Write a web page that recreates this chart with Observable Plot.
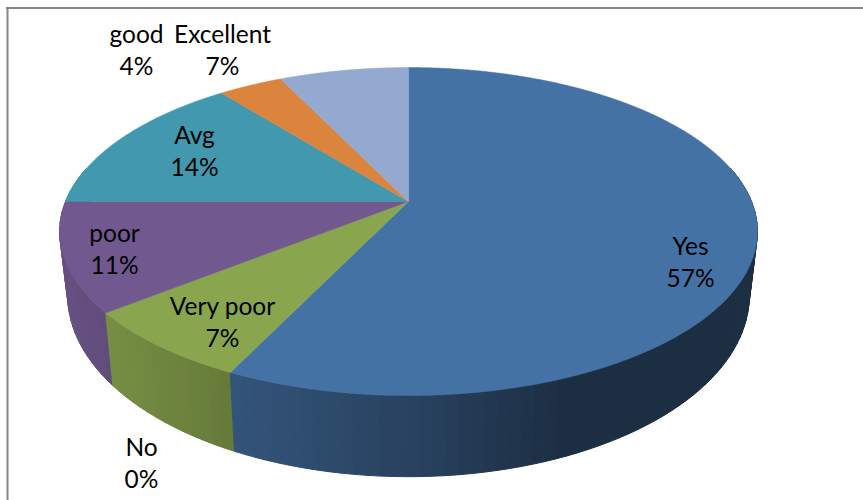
<!DOCTYPE html>
<html>
<head>
<meta charset="utf-8">
<script src="https://cdn.jsdelivr.net/npm/d3@7"></script>
<script src="https://cdn.jsdelivr.net/npm/@observablehq/plot@0.6"></script>
<style>
html,body{margin:0;padding:0;background:#fff;overflow:hidden}
svg{display:block}
</style>
</head>
<body>
<div id="chart"></div>
<script>
// Data
const categories = ["Yes", "No", "Very poor", "poor", "Avg", "good", "Excellent"];
const values = [16, 0, 2, 3, 4, 1, 2];
const colors = ["#4572a5", "#4572a5", "#89a54e", "#71588f", "#4198af", "#db843d", "#93a9cf"];

// Label placement (separate from the data)
const labelX = [690, 141, 222, 114, 194, 136, 222];
const labelY = [260, 461, 320, 247, 149, 48, 48];

// Perspective model of the tilted disc
const P = -0.183;
const TOP = {cx: 408, cy: 201, ax: 343, ay: 158.5};
const BOTTOM = {cx: 408, cy: 262, ax: 335, ay: 175};
const total = d3.sum(values);
const project = (plane, v) => {
  const t = v / total * 2 * Math.PI;
  const X = Math.sin(t), Y = -Math.cos(t), d = 1 + P * Y;
  return {x: plane.cx + plane.ax * X / d, y: plane.cy + plane.ay * Y / d, depth: Y};
};

const shade = d3.scaleLinear().domain([70, 232, 430, 565]).range([0.9, 0.74, 0.56, 0.4]).clamp(true);
const ends = d3.cumsum(values);
const FACE_STEPS = 0.02;
const STRIP_STEPS = 0.14;

const faces = [];
const strips = [];
categories.forEach((name, i) => {
  if (values[i] === 0) return;
  const start = ends[i] - values[i], end = ends[i];
  const base = d3.rgb(colors[i]);
  const nf = Math.round((end - start) / FACE_STEPS);
  faces.push({name, x: TOP.cx, y: TOP.cy});
  for (let k = 0; k <= nf; ++k) {
    const p = project(TOP, start + (end - start) * k / nf);
    faces.push({name, x: p.x, y: p.y});
  }
  faces.push({name, x: TOP.cx, y: TOP.cy});
  const n = Math.round((end - start) / STRIP_STEPS);
  for (let k = 0; k < n; ++k) {
    const a = start + (end - start) * k / n, a2 = start + (end - start) * (k + 1) / n;
    const p = project(TOP, a), q = project(TOP, a2), r = project(BOTTOM, a2), s = project(BOTTOM, a);
    if (p.depth < -0.2 && q.depth < -0.2) continue;
    const f = shade((p.x + q.x + r.x + s.x) / 4);
    const c = d3.rgb(base.r * f, base.g * f, base.b * f).formatHex();
    const id = `${i}-${k}`;
    strips.push({order: (p.depth + q.depth) / 2, pts: [p, q, r, s, p].map(v => ({id, c, x: v.x, y: v.y}))});
  }
});
strips.sort((a, b) => a.order - b.order);
const stripPoints = strips.flatMap(s => s.pts);

const labels = categories.map((name, i) => ({
  text: `${name}\n${Math.round(values[i] / total * 100)}%`, x: labelX[i], y: labelY[i]
}));

const chart = Plot.plot({
  width: 863,
  height: 500,
  margin: 0,
  style: {background: "#fff"},
  x: {domain: [0, 863], range: [0, 863], axis: null},
  y: {domain: [0, 500], range: [0, 500], axis: null},
  color: {domain: categories, range: colors},
  marks: [
    Plot.ruleY([7.5], {x1: 6, x2: 863, stroke: "#868686", strokeWidth: 2, strokeOpacity: 1}),
    Plot.ruleX([7], {y1: 7, y2: 500, stroke: "#868686", strokeWidth: 2, strokeOpacity: 1}),
    Plot.line(stripPoints, {x: "x", y: "y", z: "id", fill: "c", stroke: "c", strokeWidth: 1, curve: "linear"}),
    Plot.line(faces, {x: "x", y: "y", z: "name", fill: "name", stroke: "name", strokeWidth: 0.5, curve: "linear"}),
    Plot.text(labels, {x: "x", y: "y", text: "text", fontFamily: "Lato", fontSize: 24.5, lineHeight: 1.31, fill: "#000", textAnchor: "middle"})
  ]
});
document.getElementById("chart").append(chart);
</script>
</body>
</html>
